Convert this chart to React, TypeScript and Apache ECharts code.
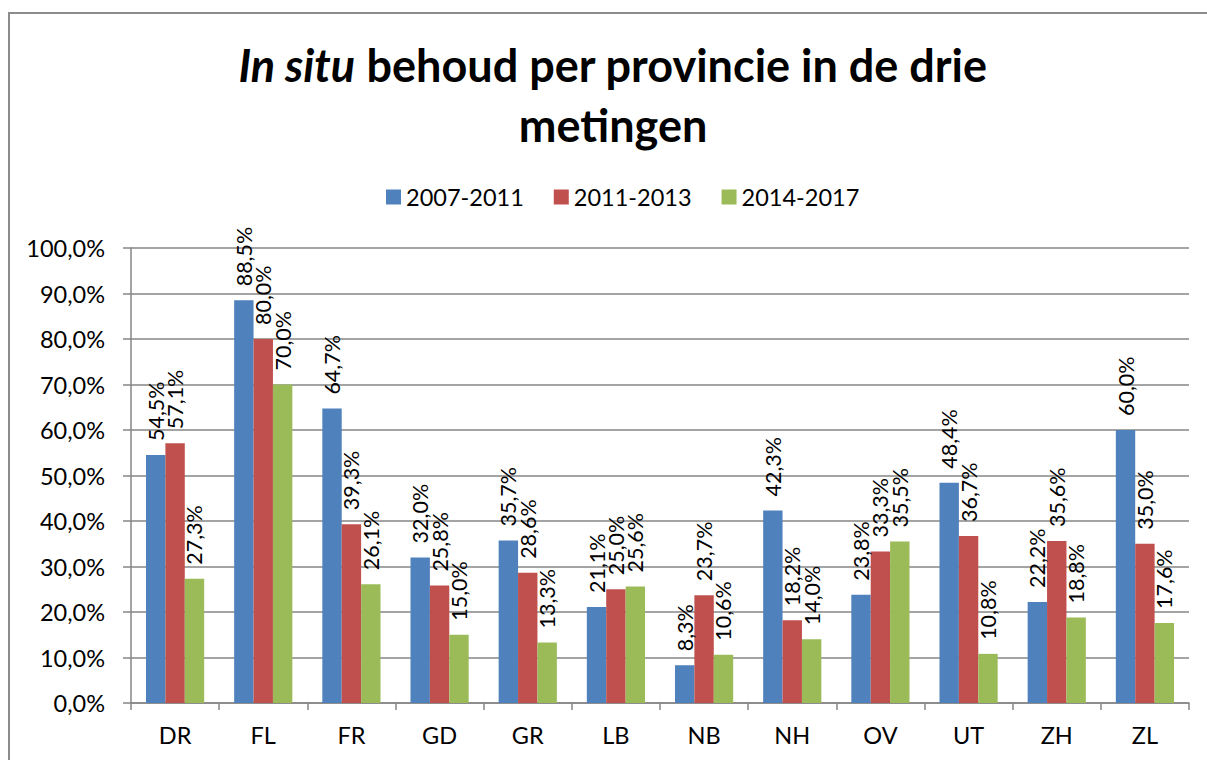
import React, { useEffect, useRef } from "react";
import * as echarts from "echarts";

const categories = ["DR", "FL", "FR", "GD", "GR", "LB", "NB", "NH", "OV", "UT", "ZH", "ZL"];
const seriesNames = ["2007-2011", "2011-2013", "2014-2017"];
const values2007 = [54.5, 88.5, 64.7, 32.0, 35.7, 21.1, 8.3, 42.3, 23.8, 48.4, 22.2, 60.0];
const values2011 = [57.1, 80.0, 39.3, 25.8, 28.6, 25.0, 23.7, 18.2, 33.3, 36.7, 35.6, 35.0];
const values2014 = [27.3, 70.0, 26.1, 15.0, 13.3, 25.6, 10.6, 14.0, 35.5, 10.8, 18.8, 17.6];
const colors = ["#4F81BD", "#C0504D", "#9BBB59"];

const fmt = (v: number) => v.toFixed(1).replace(".", ",") + "%";
const FONT = "Lato";

export default function App() {
  const ref = useRef<HTMLDivElement>(null);
  useEffect(() => {
    if (!ref.current) return;
    const chart = echarts.init(ref.current, undefined, { renderer: "svg" });
    const allValues = [values2007, values2011, values2014];
    const series = allValues.map((data, i) => ({
      name: seriesNames[i],
      type: "bar",
      data,
      barGap: "0%",
      barCategoryGap: "34%",
      itemStyle: { color: colors[i] },
      label: {
        show: true,
        position: "top",
        rotate: 90,
        align: "left",
        verticalAlign: "middle",
        distance: 14,
        fontSize: 21.5,
        fontFamily: FONT,
        color: "#000",
        formatter: (p: any) => fmt(p.value),
      },
    }));
    chart.setOption({
      animation: false,
      backgroundColor: "#fff",
      graphic: [
        {
          type: "line",
          shape: { x1: 9, y1: 13, x2: 1207, y2: 13 },
          style: { stroke: "#8c8c8c", lineWidth: 2 },
          silent: true,
        },
        {
          type: "line",
          shape: { x1: 9, y1: 12, x2: 9, y2: 760 },
          style: { stroke: "#8c8c8c", lineWidth: 2 },
          silent: true,
        },
        {
          type: "text",
          x: 613,
          y: 35,
          style: {
            text: "{i|In situ} behoud per provincie in de drie\nmetingen",
            rich: {
              i: { fontStyle: "italic", fontWeight: "bold", fontSize: 45, fontFamily: FONT, lineHeight: 60, fill: "#000" },
            },
            fontSize: 45,
            fontWeight: "bold",
            fontFamily: FONT,
            lineHeight: 60,
            align: "center",
            verticalAlign: "top",
            fill: "#000",
          },
        },
      ],
      legend: {
        data: seriesNames,
        left: 381,
        top: 180,
        itemWidth: 15,
        itemHeight: 15,
        itemGap: 30,
        icon: "rect",
        textStyle: { fontSize: 23.5, fontFamily: FONT, color: "#000" },
      },
      grid: { left: 131, right: 18, top: 248, bottom: 57, containLabel: false },
      xAxis: {
        type: "category",
        data: categories,
        axisLine: { show: true, lineStyle: { color: "#868686", width: 1.5 } },
        axisTick: { show: true, length: 7, lineStyle: { color: "#868686", width: 1.5 } },
        axisLabel: { fontSize: 23.5, fontFamily: FONT, color: "#000", margin: 20 },
      },
      yAxis: {
        type: "value",
        min: 0,
        max: 100,
        interval: 10,
        axisLine: { show: true, lineStyle: { color: "#868686", width: 1.5 } },
        axisTick: { show: true, length: 8, lineStyle: { color: "#868686", width: 1.5 } },
        splitLine: { show: true, lineStyle: { color: "#868686", width: 1.5 } },
        axisLabel: { fontSize: 23.5, fontFamily: FONT, color: "#000", margin: 26, formatter: (v: number) => fmt(v) },
      },
      series,
    });
    return () => chart.dispose();
  }, []);
  return <div ref={ref} style={{ position: "absolute", left: 0, top: 0, width: 1207, height: 760 }} />;
}
